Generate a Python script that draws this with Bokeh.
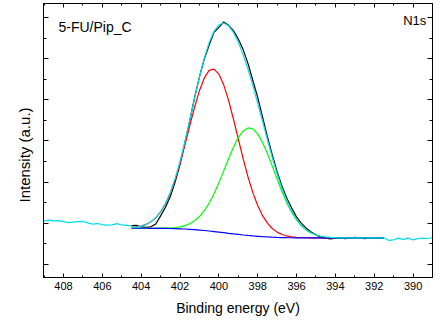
from bokeh.plotting import figure
from bokeh.models import Range1d, LinearAxis, FixedTicker, Label, Title, CustomJSTickFormatter
from bokeh.embed import file_html
from bokeh.resources import INLINE

# ---- data ----
x_major = [390, 392, 394, 396, 398, 400, 402, 404, 406, 408]
x_minor = [389, 391, 393, 395, 397, 399, 401, 403, 405, 407, 409]
y_major = [2000, 3000, 4000, 5000, 6000, 7000, 8000]
y_minor = [2500, 3500, 4500, 5500, 6500, 7500]

# raw spectrum outside the fit window (cyan)
left_E = [409.0, 408.75, 408.5, 408.25, 408.0, 407.75, 407.5, 407.25, 407.0, 406.75,
          406.5, 406.25, 406.0, 405.75, 405.5, 405.25, 405.0, 404.75, 404.5]
left_counts = [3052, 3076, 3058, 3066, 3040, 3018, 3030, 3040, 3046, 3010,
               2980, 2995, 2968, 2955, 2962, 2992, 2960, 2950, 2940]
right_E = [391.5, 391.25, 391.0, 390.75, 390.5, 390.25, 390.0, 389.75, 389.5, 389.25, 389.0]
right_counts = [2650, 2585, 2600, 2640, 2605, 2645, 2598, 2628, 2640, 2632, 2655]

# raw spectrum inside the fit window (black)
raw_E = [404.5, 404.25, 404.0, 403.75, 403.5, 403.25, 403.0, 402.75, 402.5, 402.25,
         402.0, 401.75, 401.5, 401.25, 401.0, 400.75, 400.5, 400.25, 400.0, 399.75,
         399.5, 399.25, 399.0, 398.75, 398.5, 398.25, 398.0, 397.75, 397.5, 397.25,
         397.0, 396.75, 396.5, 396.25, 396.0, 395.75, 395.5, 395.25, 395.0, 394.75,
         394.5, 394.25, 394.0, 393.75, 393.5, 393.25, 393.0, 392.75, 392.5, 392.25,
         392.0, 391.75, 391.5]
raw_counts = [2945, 2950, 2912, 2905, 2915, 2985, 3180, 3390, 3650, 4010,
              4430, 4950, 5490, 6060, 6560, 6990, 7330, 7640, 7760, 7890,
              7810, 7680, 7480, 7220, 6880, 6470, 6060, 5580, 5100, 4660,
              4250, 3900, 3610, 3370, 3150, 3000, 2880, 2790, 2720, 2665,
              2640, 2620, 2638, 2650, 2630, 2640, 2662, 2650, 2628, 2645,
              2656, 2638, 2650]

# fitted curves
fit_E = [404.5, 404.25, 404.0, 403.75, 403.5, 403.25, 403.0, 402.75, 402.5, 402.25,
         402.0, 401.75, 401.5, 401.25, 401.0, 400.75, 400.5, 400.25, 400.0, 399.75,
         399.5, 399.25, 399.0, 398.75, 398.5, 398.25, 398.0, 397.75, 397.5, 397.25,
         397.0, 396.75, 396.5, 396.25, 396.0, 395.75, 395.5, 395.25, 395.0, 394.75,
         394.5, 394.25, 394.0, 393.75, 393.5, 393.0, 392.5, 392.0, 391.5]
background = [2880, 2880, 2880, 2880, 2879, 2879, 2878, 2876, 2874, 2871,
              2867, 2862, 2855, 2847, 2837, 2826, 2813, 2800, 2786, 2772,
              2757, 2743, 2730, 2717, 2705, 2694, 2685, 2676, 2669, 2663,
              2658, 2654, 2651, 2649, 2648, 2647, 2646, 2646, 2645, 2645,
              2645, 2645, 2645, 2645, 2645, 2645, 2645, 2645, 2645]
peak_400 = [2895, 2909, 2933, 2973, 3036, 3134, 3276, 3472, 3734, 4064,
            4457, 4899, 5365, 5820, 6222, 6532, 6714, 6747, 6625, 6363,
            5986, 5534, 5050, 4570, 4129, 3745, 3432, 3186, 3004, 2874,
            2786, 2729, 2693, 2672, 2660, 2653, 2649, 2647, 2645, 2645,
            2645, 2645, 2645, 2645, 2645, 2645, 2645, 2645, 2645]
peak_398 = [2880, 2880, 2880, 2880, 2880, 2881, 2882, 2884, 2889, 2898,
            2915, 2945, 2991, 3062, 3165, 3306, 3489, 3717, 3983, 4274,
            4570, 4848, 5082, 5245, 5318, 5293, 5172, 4965, 4696, 4390,
            4073, 3769, 3497, 3266, 3081, 2939, 2836, 2765, 2716, 2686,
            2668, 2657, 2651, 2648, 2646, 2645, 2645, 2645, 2645]
envelope = [2895, 2909, 2933, 2973, 3037, 3136, 3280, 3480, 3749, 4091,
            4505, 4982, 5501, 6035, 6550, 7012, 7390, 7664, 7822, 7865,
            7799, 7639, 7402, 7098, 6742, 6344, 5919, 5475, 5031, 4601,
            4201, 3844, 3539, 3289, 3093, 2945, 2839, 2766, 2716, 2686,
            2668, 2657, 2651, 2648, 2646, 2645, 2645, 2645, 2645]

FONT = "Liberation Sans"
CYAN = "#00DDEE"

p = figure(width=443, height=326,
           x_range=Range1d(409.03, 389.0), y_range=Range1d(1684, 8340),
           output_backend="svg", toolbar_location=None,
           min_border_left=43, min_border_right=11,
           min_border_top=3, min_border_bottom=49)
p.grid.visible = False
p.outline_line_color = "black"
p.outline_line_width = 1
p.background_fill_color = "white"
p.border_fill_color = "white"

xt = FixedTicker(ticks=x_major, minor_ticks=x_minor)
yt = FixedTicker(ticks=y_major, minor_ticks=y_minor)
blank = CustomJSTickFormatter(code="return ''")

xa = p.xaxis[0]
xa.ticker = xt
xa.axis_label = "Binding energy (eV)"
xa.axis_label_text_font = FONT
xa.axis_label_text_font_size = "14px"
xa.axis_label_text_font_style = "normal"
xa.axis_label_text_color = "black"
xa.axis_label_standoff = 7
xa.major_label_text_font = FONT
xa.major_label_text_font_size = "11px"
xa.major_label_text_color = "black"
xa.major_label_standoff = 4
xa.major_tick_in = 4
xa.major_tick_out = 0
xa.minor_tick_in = 2
xa.minor_tick_out = 0
xa.axis_line_color = "black"

ya = p.yaxis[0]
ya.ticker = yt
ya.formatter = blank
ya.major_label_text_font_size = "1px"
ya.major_label_standoff = 0
ya.major_tick_in = 5
ya.major_tick_out = 0
ya.minor_tick_in = 3
ya.minor_tick_out = 0

top = LinearAxis(ticker=xt, formatter=blank, major_tick_in=4, major_tick_out=0,
                 minor_tick_in=2, minor_tick_out=0, major_label_text_font_size="1px",
                 major_label_standoff=0)
right = LinearAxis(ticker=yt, formatter=blank, major_tick_in=5, major_tick_out=0,
                   minor_tick_in=3, minor_tick_out=0, major_label_text_font_size="1px",
                   major_label_standoff=0)
p.add_layout(top, "above")
p.add_layout(right, "right")

ylab = Title(text="Intensity (a.u.)", text_font=FONT, text_font_size="15px",
             text_font_style="normal", text_color="black", align="left",
             offset=75, standoff=21)
p.add_layout(ylab, "left")

lw = 1.2
p.line(left_E, left_counts, line_color=CYAN, line_width=lw)
p.line(right_E, right_counts, line_color=CYAN, line_width=lw)
p.line(raw_E, raw_counts, line_color="black", line_width=lw)
p.line(fit_E, peak_400, line_color="#FF0000", line_width=lw)
p.line(fit_E, peak_398, line_color="#00FF00", line_width=lw)
p.line(fit_E, background, line_color="#0000FF", line_width=lw)
p.line(fit_E, envelope, line_color=CYAN, line_width=lw)

p.add_layout(Label(x=408.26, y=7781, text="5-FU/Pip_C", text_font=FONT,
                   text_font_size="14px", text_color="black", text_baseline="alphabetic"))
p.add_layout(Label(x=389.32, y=7927, text="N1s", text_font=FONT, text_color="black",
                   text_font_size="13px", text_align="right", text_baseline="alphabetic"))

open("out.html", "w").write(file_html(p, INLINE))
